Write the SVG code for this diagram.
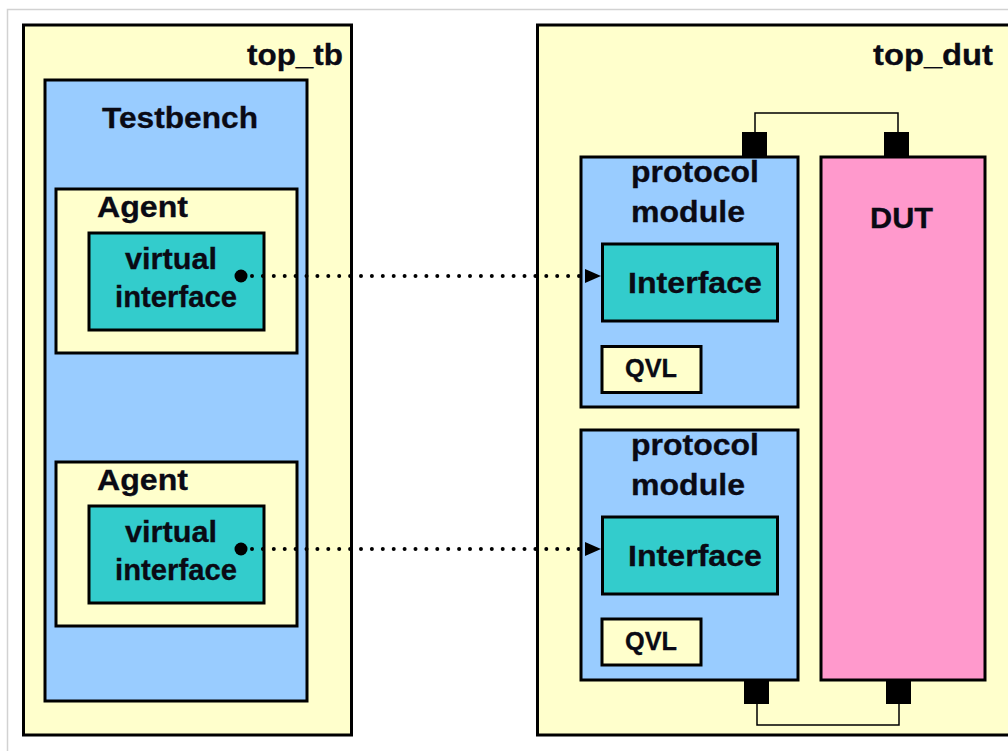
<svg xmlns="http://www.w3.org/2000/svg" width="1008" height="751" viewBox="0 0 1008 751">
  <style>
    .box { stroke: #000; stroke-width: 3; }
    .yel { fill: #FFFFCC; }
    .blu { fill: #99CCFF; }
    .teal { fill: #33CCCC; }
    .pink { fill: #FF99CC; }
    .lbl { font-family: "Liberation Sans", Arial, sans-serif; font-weight: bold; font-size: 30px; fill: #0A0A14; stroke: #0A0A14; stroke-width: 0.3; }
    .small { font-size: 25px; }
    .port { fill: #000; }
    .wire { fill: none; stroke: #000; stroke-width: 1.5; }
    .dots { fill: none; stroke: #000; stroke-width: 4; stroke-linecap: round; stroke-dasharray: 0 10.9; }
    .frame { stroke: #D2D2D2; stroke-width: 1.5; fill: none; }
  </style>
  <defs>
    <marker id="tri" markerUnits="userSpaceOnUse" markerWidth="18" markerHeight="14" refX="16" refY="7" orient="auto">
      <path d="M0,0 L16,7 L0,14 Z" fill="#000"/>
    </marker>
  </defs>

  <rect width="1008" height="751" fill="#fff"/>
  <path class="frame" d="M7.5,751 V9.5 H1008"/>

  <!-- test bench side -->
  <g id="top_tb">
    <rect class="box yel" x="23.5" y="25" width="328" height="710"/>
    <text class="lbl" x="247" y="65" textLength="96" lengthAdjust="spacingAndGlyphs">top_tb</text>
  </g>
  <g id="testbench">
    <rect class="box blu" x="45" y="80" width="262" height="621"/>
    <text class="lbl" x="102" y="128" textLength="156" lengthAdjust="spacingAndGlyphs">Testbench</text>
  </g>
  <g id="agent1">
    <rect class="box yel" x="56" y="189" width="241" height="164"/>
    <text class="lbl" x="97" y="217" textLength="91" lengthAdjust="spacingAndGlyphs">Agent</text>
  </g>
  <g id="vif1">
    <rect class="box teal" x="89" y="233" width="175" height="97"/>
    <text class="lbl" x="125" y="269" textLength="92" lengthAdjust="spacingAndGlyphs">virtual</text>
    <text class="lbl" x="115" y="307" textLength="122" lengthAdjust="spacingAndGlyphs">interface</text>
    <circle cx="241" cy="276" r="6.5" fill="#000"/>
  </g>
  <g id="agent2">
    <rect class="box yel" x="56" y="462" width="241" height="164"/>
    <text class="lbl" x="97" y="490" textLength="91" lengthAdjust="spacingAndGlyphs">Agent</text>
  </g>
  <g id="vif2">
    <rect class="box teal" x="89" y="506" width="175" height="97"/>
    <text class="lbl" x="125" y="542" textLength="92" lengthAdjust="spacingAndGlyphs">virtual</text>
    <text class="lbl" x="115" y="580" textLength="122" lengthAdjust="spacingAndGlyphs">interface</text>
    <circle cx="241" cy="549" r="6.5" fill="#000"/>
  </g>

  <!-- DUT side -->
  <g id="top_dut">
    <rect class="box yel" x="537.5" y="25" width="500" height="710"/>
    <text class="lbl" x="873" y="65" textLength="120" lengthAdjust="spacingAndGlyphs">top_dut</text>
  </g>
  <g id="protocol1">
    <rect class="box blu" x="581" y="157" width="217" height="250"/>
    <text class="lbl" x="631" y="182" textLength="128" lengthAdjust="spacingAndGlyphs">protocol</text>
    <text class="lbl" x="631" y="222" textLength="114" lengthAdjust="spacingAndGlyphs">module</text>
  </g>
  <g id="iface1">
    <rect class="box teal" x="602.5" y="244" width="175" height="77"/>
    <text class="lbl" x="628" y="293" textLength="134" lengthAdjust="spacingAndGlyphs">Interface</text>
  </g>
  <g id="qvl1">
    <rect class="box yel" x="602" y="346.5" width="99" height="46"/>
    <text class="lbl small" x="625" y="377" textLength="52" lengthAdjust="spacingAndGlyphs">QVL</text>
  </g>
  <g id="protocol2">
    <rect class="box blu" x="581" y="430" width="217" height="250"/>
    <text class="lbl" x="631" y="455" textLength="128" lengthAdjust="spacingAndGlyphs">protocol</text>
    <text class="lbl" x="631" y="495" textLength="114" lengthAdjust="spacingAndGlyphs">module</text>
  </g>
  <g id="iface2">
    <rect class="box teal" x="602.5" y="517" width="175" height="77"/>
    <text class="lbl" x="628" y="566" textLength="134" lengthAdjust="spacingAndGlyphs">Interface</text>
  </g>
  <g id="qvl2">
    <rect class="box yel" x="602" y="619" width="99" height="46"/>
    <text class="lbl small" x="625" y="650" textLength="52" lengthAdjust="spacingAndGlyphs">QVL</text>
  </g>
  <g id="dut">
    <rect class="box pink" x="821" y="157" width="164" height="523"/>
    <text class="lbl" x="870" y="228" textLength="63" lengthAdjust="spacingAndGlyphs">DUT</text>
  </g>

  <!-- ports and connections -->
  <g id="connectors">
    <path class="wire" d="M755,133 V113 H898 V133"/>
    <path class="wire" d="M757,703 V725 H899 V703"/>
    <rect class="port" x="742" y="132" width="25" height="25"/>
    <rect class="port" x="884" y="132" width="25" height="25"/>
    <rect class="port" x="744" y="679" width="25" height="25"/>
    <rect class="port" x="886" y="679" width="25" height="25"/>
    <path class="dots" d="M252,276 H582"/>
    <path d="M582,276 H601" stroke="none" fill="none" marker-end="url(#tri)"/>
    <path class="dots" d="M252,549 H582"/>
    <path d="M582,549 H601" stroke="none" fill="none" marker-end="url(#tri)"/>
  </g>
</svg>
